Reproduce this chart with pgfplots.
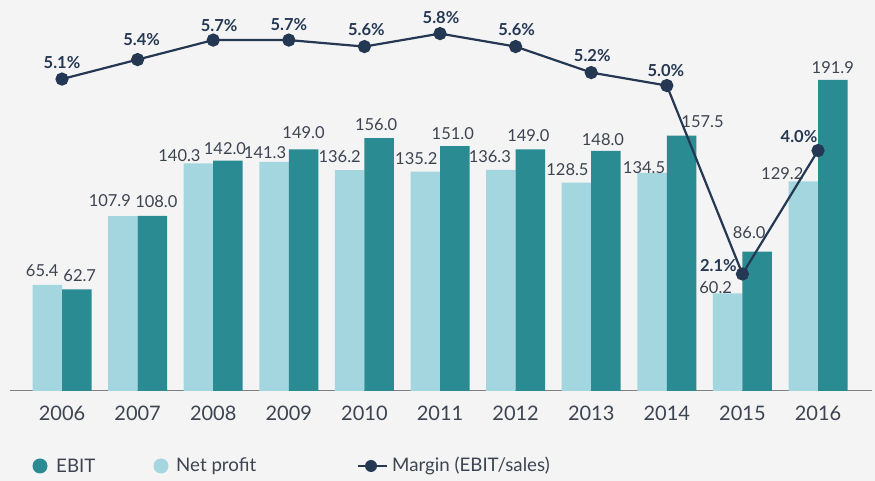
\documentclass[border=0pt]{standalone}
\usepackage{fontspec}
\setmainfont{Lato}
\usepackage{pgfplots}
\pgfplotsset{compat=1.18}
\usepackage{pgfplotstable}

\definecolor{bgc}{HTML}{F4F4F4}
\definecolor{lightc}{HTML}{A4D6E0}
\definecolor{tealc}{HTML}{2A8B93}
\definecolor{navyc}{HTML}{243853}
\definecolor{textc}{HTML}{3D4451}
\definecolor{axisc}{HTML}{808080}

% x = year index, y = value, dx/dy = label offset (pt)
\pgfplotstableread{
x y dx dy
0 65.4 -5 14
1 107.9 -13 15
2 140.3 -19 8
3 141.3 -9 9
4 136.2 -10 14
5 135.2 -9 13
6 136.3 -11 13
7 128.5 -9 13
8 134.5 -8 5
9 60.2 -12 6
10 129.2 -21 8
}\netprofit

\pgfplotstableread{
x y dx dy
0 62.7 3 14
1 108.0 4 14
2 142.0 -3 12
3 149.0 0 17
4 156.0 -3 13
5 151.0 -2 13
6 149.0 -2 14
7 148.0 -3 11
8 157.5 21 14
9 86.0 -8 19
10 191.9 0 12
}\ebit

\pgfplotstableread{
x y dx dy
0 5.1 0 17
1 5.4 4 20
2 5.7 6 15
3 5.7 0 16
4 5.6 2 17
5 5.8 1 16
6 5.6 1 17
7 5.2 1 17
8 5.0 -1 15
9 2.1 -24 8
10 4.0 -19 14
}\margin

\begin{document}
\begin{tikzpicture}[x=1pt,y=1pt]
\fill[bgc] (0,0) rectangle (875,481);

\begin{axis}[
    at={(10pt,90pt)}, anchor=south west,
    scale only axis, width=862pt, height=391pt,
    xmin=-0.688, xmax=10.714,
    ymin=0, ymax=241.1,
    ybar=0pt, bar width=29.5pt,
    axis x line*=bottom, axis y line=none,
    x axis line style={draw=axisc, line width=1pt, -},
    xtick={0,...,10},
    xticklabels={2006,2007,2008,2009,2010,2011,2012,2013,2014,2015,2016},
    major tick length=0pt,
    xticklabel style={font=\fontsize{20}{22}\selectfont, text=textc,
        anchor=north, inner sep=0pt, yshift=-15pt},
    clip=false,
    /pgf/number format/assume math mode=true,
    nodes near coords={\pgfmathprintnumber[fixed,fixed zerofill,precision=1]{\pgfplotspointmeta}},
    visualization depends on={\thisrow{dx}\as\dx},
    visualization depends on={\thisrow{dy}\as\dy},
    nodes near coords style={font=\fontsize{16.5}{18}\selectfont, text=textc,
        anchor=center, inner sep=0pt, xshift=\dx, yshift=\dy},
]
\addplot[fill=lightc, draw=none] table[x=x, y=y] {\netprofit};
\addplot[fill=tealc, draw=none] table[x=x, y=y] {\ebit};
\end{axis}

\begin{axis}[
    at={(10pt,90pt)}, anchor=south west,
    scale only axis, width=862pt, height=391pt,
    xmin=-0.688, xmax=10.714,
    ymin=0.299, ymax=6.317,
    axis lines=none, xtick=\empty, ytick=\empty,
    clip=false,
    /pgf/number format/assume math mode=true,
    visualization depends on={\thisrow{dx}\as\dx},
    visualization depends on={\thisrow{dy}\as\dy},
]
\addplot[navyc, line width=2.2pt, mark=*, mark size=5.5pt,
    mark options={solid, fill=navyc},
    nodes near coords={\pgfmathprintnumber[fixed,fixed zerofill,precision=1]{\pgfplotspointmeta}\%},
    nodes near coords style={font=\bfseries\fontsize{16.5}{18}\selectfont, text=navyc,
        anchor=center, inner sep=0pt, xshift=\dx, yshift=\dy}]
    table[x=x, y=y] {\margin};
\end{axis}

% legend
\begin{scope}[font=\fontsize{18.7}{20}\selectfont, text=textc]
\fill[tealc] (40,15) circle (7.5);
\node[anchor=west, inner sep=0pt] at (56,15) {EBIT};
\fill[lightc] (161,15) circle (7.5);
\node[anchor=west, inner sep=0pt] at (176,15) {Net profit};
\draw[navyc, line width=2.5pt] (358,15) -- (387,15);
\fill[navyc] (371,15) circle (6);
\node[anchor=west, inner sep=0pt] at (392,15) {Margin (EBIT/sales)};
\end{scope}

\pgfresetboundingbox
\path[use as bounding box] (0,0) rectangle (875,481);
\end{tikzpicture}
\end{document}
